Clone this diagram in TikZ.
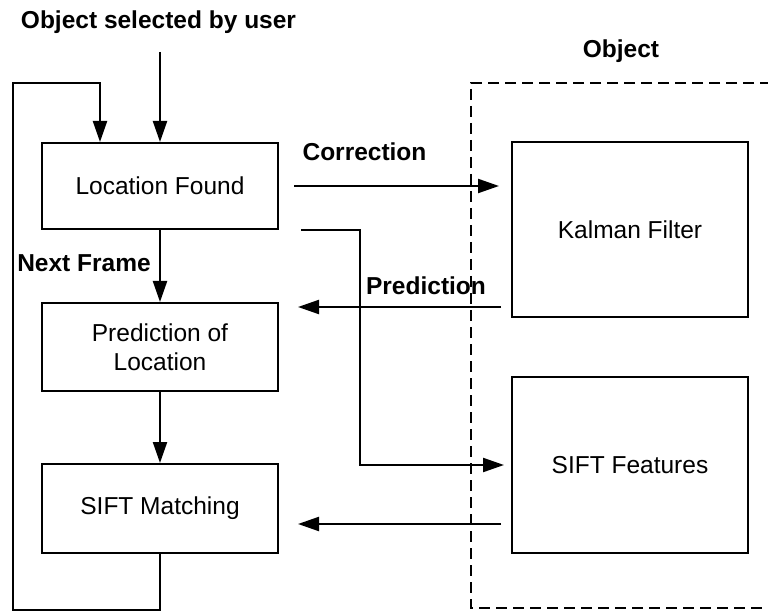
\documentclass[tikz,border=0pt]{standalone}
\usepackage{fontspec}
\setmainfont{Liberation Sans}
\usetikzlibrary{arrows.meta,calc}
\begin{document}
\begin{tikzpicture}[x=1pt,y=-1pt,
  every node/.style={font=\fontsize{24.5}{29}\selectfont},
  box/.style={draw,line width=2pt,rectangle,minimum width=236pt,inner sep=0pt,align=center},
  lbl/.style={font=\fontsize{24.5}{29}\selectfont\bfseries,inner sep=0pt},
  arr/.style={line width=2.2pt,-{Triangle[length=21pt,width=14pt]}},
  objbox/.style={line width=2pt,dash pattern=on 11pt off 6pt}]
\useasboundingbox (0,0) rectangle (768,612);
% boxes
\node[box,minimum height=86pt] (lf) at (160,186) {Location Found};
\node[box,minimum height=88pt] (pl) at (160,347) {Prediction of\\Location};
\node[box,minimum height=89pt] (sm) at (160,508.5) {SIFT Matching};
\node[box,minimum height=175pt] (kf) at (630,229.5) {Kalman Filter};
\node[box,minimum height=176pt] (sf) at (630,465) {SIFT Features};
% labels
\node[lbl] (user) at (158.5,22) {Object selected by user};
\node[lbl] (obj) at (621,51) {Object};
\node[lbl] (corr) at (364.5,152) {Correction};
\node[lbl] (pred) at (426,286) {Prediction};
\node[lbl] (next) at (84,263) {Next Frame};
% object dashed region
\coordinate (o1) at (771,83);
\coordinate (o2) at (471,83);
\coordinate (o3) at (471,608);
\coordinate (o4) at (771,608);
\draw[objbox] (o1) -- (o2) -- (o3) -- (o4);
% input
\coordinate (src) at (160,52);
\draw[arr] (src) -- (lf.north);
% feedback loop
\coordinate (c1) at (13,610);
\coordinate (c2) at (100,83);
\draw[arr] (sm.south) |- (c1) |- (c2) -- (c2 |- lf.north);
% vertical chain
\draw[arr] (lf) -- (pl);
\draw[arr] (pl) -- (sm);
% correction
\draw[arr,shorten <=15pt,shorten >=12pt] (lf.east) -- (kf.west |- lf.east);
% branch to SIFT features
\coordinate (b1) at (360,400);
\draw[arr,shorten >=7pt] ([xshift=22pt]lf.south east) -| (b1) |- (sf.west);
% prediction
\draw[arr] ($(kf.south west)+(-10pt,11pt)$) -- ($(pl.east |- kf.south west)+(19pt,11pt)$);
% features to matching
\draw[arr] ($(sf.south west)+(-10pt,30pt)$) -- ($(sm.east |- sf.south west)+(19pt,30pt)$);
\end{tikzpicture}
\end{document}
